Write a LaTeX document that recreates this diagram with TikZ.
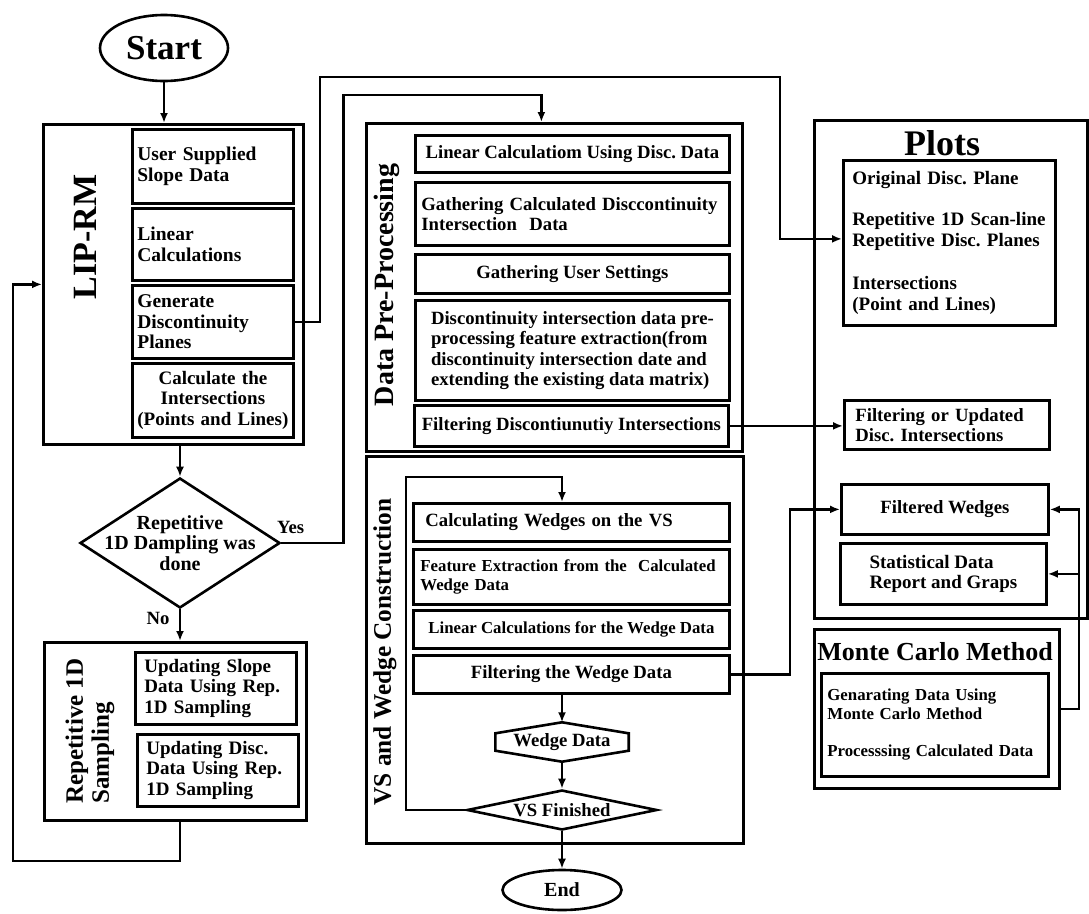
\documentclass[tikz,border=0pt]{standalone}
\usepackage{fontspec}
\setmainfont{Liberation Serif}
\usetikzlibrary{positioning, arrows.meta, calc, shapes.geometric}

\newcommand{\flowfont}[2]{\fontsize{#1}{#2}\selectfont\bfseries\frenchspacing}

\begin{document}
\begin{tikzpicture}[
        x=1pt, y=-1pt,
        font=\flowfont{18.7}{20.5},
        % box styles
        frame/.style={draw, line width=2.8pt, anchor=north west, inner sep=0pt},
        task/.style={draw, line width=2.8pt, anchor=north west, inner sep=5pt, align=left},
        boxsize/.style 2 args={minimum width=#1pt, minimum height=#2pt},
        terminal/.style={ellipse, draw, line width=2.6pt, inner sep=0pt},
        decision/.style={diamond, draw, line width=2.6pt, align=center},
        boxline/.style={line width=2.6pt, line join=miter},
        % connector styles
        arrow/.style={->, >={Latex[length=10pt, width=8pt]}, line width=2.4pt}
    ]
    \useasboundingbox (0,0) rectangle (1089,913);

    % -- Start and LIP-RM --
    \node[terminal, boxsize={128}{66}, font=\flowfont{35}{36}] (start) at (164,48) {Start};

    \node[frame, boxsize={260}{320}] (lip) at (42,123) {};
    \node[rotate=90, font=\flowfont{34}{36}] (lipname) at (85,237) {LIP-RM};
    \node[task, boxsize={161}{74}, text width=151pt, font=\flowfont{19.5}{20.5}] (usr) at (131,128) {User Supplied\\Slope Data};
    \node[task, boxsize={161}{72}, text width=151pt, font=\flowfont{19.5}{20.5}] (lin) at (131,207) {Linear\\Calculations};
    \node[task, boxsize={161}{73}, text width=151pt, font=\flowfont{19.5}{20.5}] (gen) at (131,284) {Generate\\Discontinuity\\Planes};
    \node[task, boxsize={161}{74}, text width=157pt, inner xsep=2pt, align=center, font=\flowfont{19}{20.5}] (isec) at (131,362) {Calculate the\\Intersections\\(Points and Lines)};

    % -- Decision --
    \node[decision, boxsize={200}{130}, aspect=1.54, inner sep=-10pt, font=\flowfont{20}{20.5}] (dec) at (180,543) {Repetitive\\1D Dampling was\\done};

    % -- Repetitive 1D Sampling --
    \node[frame, boxsize={262}{178}] (rs) at (43,641) {};
    \node[rotate=90, font=\flowfont{25}{26}, align=left] (rsname) at (90,731) {Repetitive 1D\\Sampling};
    \node[task, boxsize={161}{72}, text width=143pt, inner xsep=9pt, font=\flowfont{19}{20.5}] (upd1) at (134,651) {Updating Slope\\Data Using Rep.\\1D Sampling};
    \node[task, boxsize={161}{72}, text width=143pt, inner xsep=9pt, font=\flowfont{19}{20.5}] (upd2) at (136,733) {Updating Disc.\\Data Using Rep.\\1D Sampling};

    % -- Data Pre-Processing --
    \node[frame, boxsize={376}{328}] (dpp) at (365,122) {};
    \node[rotate=90, font=\flowfont{28}{30}] (dppname) at (387,285) {Data Pre-Processing};
    \node[task, boxsize={314}{37}, align=center] (dp1) at (414,134) {Linear Calculatiom Using Disc. Data};
    \node[task, boxsize={314}{63}, text width=302pt, inner xsep=6pt] (dp2) at (414,181) {Gathering Calculated Disccontinuity\\Intersection\ \ Data};
    \node[task, boxsize={314}{39}, align=center] (dp3) at (414,253) {Gathering User Settings};
    \node[task, boxsize={314}{100}] (dp4) at (414,299) {Discontinuity intersection data pre-\\processing feature extraction(from\\discontinuity intersection date and\\extending the existing data matrix)};
    \node[task, boxsize={314}{41}, inner xsep=2pt, align=center] (dp5) at (413,404) {Filtering Discontiunutiy Intersections};

    % -- VS and Wedge Construction --
    \node[frame, boxsize={377}{387}] (vs) at (365,455) {};
    \node[rotate=90, font=\flowfont{25.3}{27}] (vsname) at (385,652) {VS and Wedge Construction};
    \node[task, boxsize={316}{38}, text width=292pt, inner xsep=12pt] (vs1) at (412,502) {Calculating Wedges on the VS};
    \node[task, boxsize={316}{55}, text width=302pt, inner xsep=7pt, font=\flowfont{16.8}{18.5}] (vs2) at (412,548) {Feature Extraction from the\ \ Calculated\\Wedge Data};
    \node[task, boxsize={316}{38}, inner xsep=3pt, align=center, font=\flowfont{16.8}{18.5}] (vs3) at (412,609) {Linear Calculations for the Wedge Data};
    \node[task, boxsize={316}{38}, align=center] (vs4) at (412,654) {Filtering the Wedge Data};

    \node[inner sep=3pt, boxsize={133}{39}] (wd) at (562,742) {Wedge Data};
    \draw[boxline] (wd.north) -- ([yshift=-11pt]wd.north east) -- ([yshift=11pt]wd.south east) -- (wd.south)
        -- ([yshift=11pt]wd.south west) -- ([yshift=-11pt]wd.north west) -- cycle;
    \node[decision, boxsize={190}{40}, aspect=4.75, inner sep=0pt] (vsf) at (562,810) {VS Finished};
    \node[terminal, boxsize={119}{40}, font=\flowfont{20}{22}] (end) at (562,890) {End};

    % -- Plots --
    \node[frame, boxsize={273}{498}] (plots) at (813,119) {};
    \node[font=\flowfont{36}{38}] (plotsname) at (942,143) {Plots};
    \node[task, boxsize={212}{165}, text width=194pt, inner xsep=9pt, font=\flowfont{19}{20.5}] (plotsin) at (842,159) {Original Disc. Plane\\[21pt]Repetitive 1D Scan-line\\Repetitive Disc. Planes\\[23pt]Intersections\\(Point and Lines)};
    \node[task, boxsize={205}{49}, text width=183pt, inner xsep=11pt] (filt) at (843,399) {Filtering or Updated\\Disc. Intersections};
    \node[task, boxsize={207}{50}, align=center] (fw) at (840,483) {Filtered Wedges};
    \node[task, boxsize={206}{61}, font=\flowfont{19}{20.5}] (stat) at (839,542) {Statistical Data\\Report and Graps};

    % -- Monte Carlo --
    \node[frame, boxsize={245}{159}] (mc) at (813,628) {};
    \node[font=\flowfont{26}{28}] (mcname) at (935,652) {Monte Carlo Method};
    \node[task, boxsize={227}{103}, text width=215pt, inner xsep=6pt, font=\flowfont{16.8}{18.5}] (mcin) at (820,672) {Genarating Data Using\\Monte Carlo Method\\[19pt]Processsing Calculated Data};

    % -- Main flow --
    \draw[arrow] (start.south) -- (start.south |- lip.north);
    \draw[arrow] (dec.north |- lip.south) -- (dec.north);
    \draw[arrow] (dec.east) -- node[above=5pt, pos=0.15] (yes) {Yes} ++(62,0) |- ([xshift=-13pt, yshift=27pt]dpp.north) -- ([xshift=-13pt]dpp.north);
    \draw[arrow] (dec.south) -- node[left=6pt, pos=0.3] (no) {No} (dec.south |- rs.north);
    \draw[arrow] (dec.south |- rs.south) -- ++(0,39) -| ([xshift=-29pt]lip.west) -- (lip.west);

    % -- Towards the plots --
    \draw[arrow] (gen.east) -| ++(25,-245) -| ([xshift=-62pt, yshift=4pt]plotsin.west) -- ([yshift=4pt]plotsin.west);
    \draw[arrow] (dp5.east) -- (dp5.east -| filt.west);
    \draw[arrow] (vs4.east) -- ++(59,0) |- (fw.west);
    \draw[arrow] (mc.east) -- ++(18,0) |- (fw.east);
    \draw[arrow] (mc.east) -- ++(18,0) |- (stat.east);

    % -- Wedge loop --
    \draw[arrow] (wd.north |- vs4.south) -- (wd.north);
    \draw[arrow] (wd.south) -- (vsf.north);
    \draw[arrow] (vsf.south) -- (end.north);
    \draw[arrow] (vsf.west) -| ++(-60,-333) -| (wd.north |- vs1.north);

\end{tikzpicture}
\end{document}
